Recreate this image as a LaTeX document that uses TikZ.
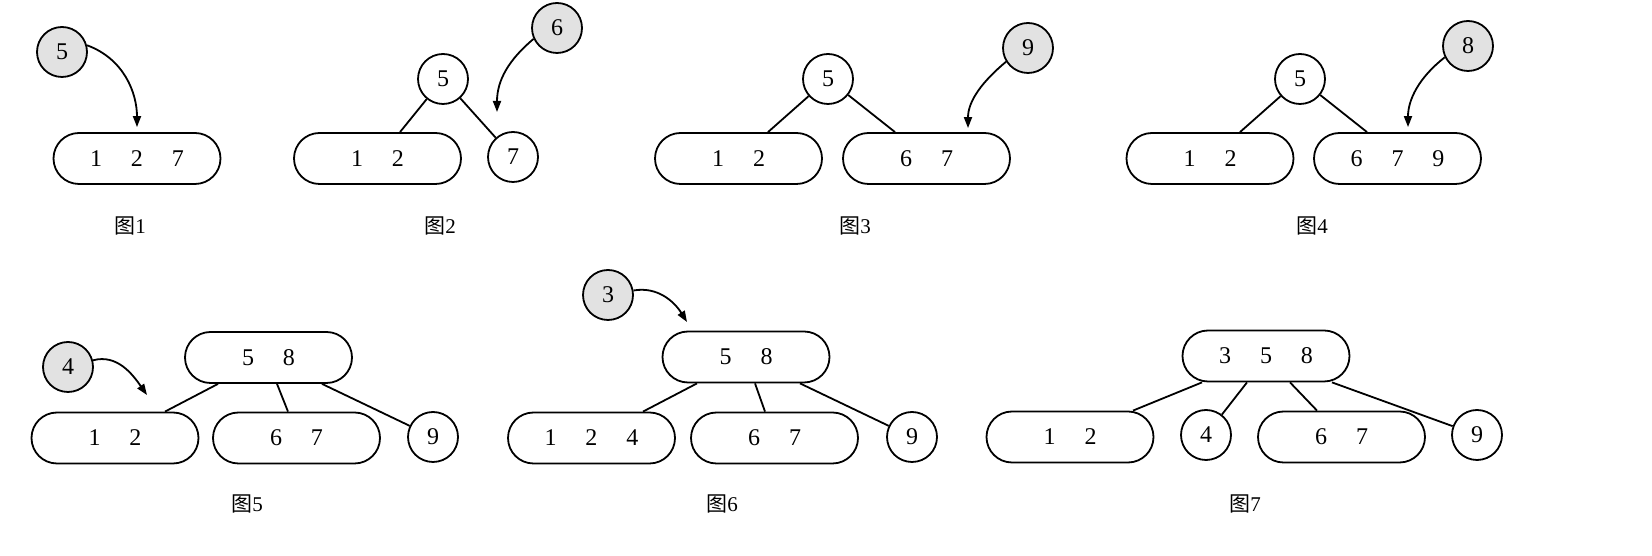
\documentclass[tikz,border=0pt]{standalone}
\usepackage{fontspec}
\setmainfont{Liberation Serif}
\newfontfamily\cjk{Noto Sans CJK SC}
\usetikzlibrary{arrows.meta}

\definecolor{insgray}{RGB}{226,226,226}
\newcommand{\dg}{\hspace{29pt}}

\tikzset{
  key/.style={draw=black, line width=1.8pt, rounded corners=25.5pt,
    minimum width=167pt, minimum height=51pt, inner sep=0pt,
    font=\fontsize{24}{28}\selectfont},
  ring/.style={draw=black, circle, line width=1.8pt, minimum size=50pt,
    inner sep=0pt, font=\fontsize{24}{28}\selectfont},
  newkey/.style={ring, fill=insgray},
  link/.style={line width=1.8pt},
  ins/.style={line width=1.8pt, -{Triangle[length=11pt,width=8pt]}},
  figcap/.style={font=\fontsize{21}{25}\selectfont, inner sep=0pt},
}

\begin{document}
\begin{tikzpicture}[x=1pt,y=1pt]
\fill[white] (0,0) rectangle (1652,556);
\useasboundingbox (0,0) rectangle (1652,556);

% ---------- Fig. 1 ----------
\node[newkey] (g1) at (62,504) {5};
\node[key] (b1) at (137,397.5) {1\dg 2\dg 7};
\draw[ins, shorten >=5pt] (g1.15) to[out=-20, in=90] (b1.north);
\node[figcap] (f1) at (130,330) {{\cjk 图}1};

% ---------- Fig. 2 ----------
\node[ring] (c2) at (443,477) {5};
\node[key] (b2) at (377.5,397.5) {1\dg 2};
\node[ring] (c2r) at (513,399) {7};
\draw[link] (c2) -- ([xshift=22.5pt]b2.north);
\draw[link] (c2) -- (c2r);
\node[newkey] (g2) at (557,528) {6};
\coordinate (p2) at (497,444);
\draw[ins] (g2.205) to[out=220, in=90] (p2);
\node[figcap] (f2) at (440,330) {{\cjk 图}2};

% ---------- Fig. 3 ----------
\node[ring] (c3) at (828,477) {5};
\node[key] (b3l) at (738.5,397.5) {1\dg 2};
\node[key] (b3r) at (926.5,397.5) {6\dg 7};
\draw[link] (c3) -- ([xshift=29.5pt]b3l.north);
\draw[link] (c3) -- ([xshift=-31.5pt]b3r.north);
\node[newkey] (g3) at (1028,508) {9};
\draw[ins, shorten >=4pt] (g3.212) to[out=220, in=90] ([xshift=41.5pt]b3r.north);
\node[figcap] (f3) at (855,330) {{\cjk 图}3};

% ---------- Fig. 4 ----------
\node[ring] (c4) at (1300,477) {5};
\node[key] (b4l) at (1210,397.5) {1\dg 2};
\node[key] (b4r) at (1397.5,397.5) {6\dg 7\dg 9};
\draw[link] (c4) -- ([xshift=30pt]b4l.north);
\draw[link] (c4) -- ([xshift=-30.5pt]b4r.north);
\node[newkey] (g4) at (1468,510) {8};
\draw[ins, shorten >=5pt] (g4.206) to[out=218, in=90] ([xshift=10.5pt]b4r.north);
\node[figcap] (f4) at (1312,330) {{\cjk 图}4};

% ---------- Fig. 5 ----------
\node[key] (r5) at (268.5,198.5) {5\dg 8};
\node[key] (b5a) at (115,118) {1\dg 2};
\node[key] (b5b) at (296.5,118) {6\dg 7};
\node[ring] (c5) at (433,119) {9};
\draw[link] ([xshift=-50.5pt]r5.south) -- ([xshift=50pt]b5a.north);
\draw[link] ([xshift=8.5pt]r5.south) -- ([xshift=-8.5pt]b5b.north);
\draw[link] ([xshift=53.5pt]r5.south) -- (c5);
\node[newkey] (g5) at (68,189) {4};
\coordinate (p5) at (147,161);
\draw[ins] (g5.15) to[out=15, in=125] (p5);
\node[figcap] (f5) at (247,52) {{\cjk 图}5};

% ---------- Fig. 6 ----------
\node[key] (r6) at (746,199) {5\dg 8};
\node[key] (b6a) at (591.5,118) {1\dg 2\dg 4};
\node[key] (b6b) at (774.5,118) {6\dg 7};
\node[ring] (c6) at (912,119) {9};
\draw[link] ([xshift=-49pt]r6.south) -- ([xshift=51.5pt]b6a.north);
\draw[link] ([xshift=9pt]r6.south) -- ([xshift=-9.5pt]b6b.north);
\draw[link] ([xshift=54pt]r6.south) -- (c6);
\node[newkey] (g6) at (608,261) {3};
\coordinate (p6) at (687,234);
\draw[ins] (g6.10) to[out=10, in=122] (p6);
\node[figcap] (f6) at (722,52) {{\cjk 图}6};

% ---------- Fig. 7 ----------
\node[key] (r7) at (1266,200) {3\dg 5\dg 8};
\node[key] (b7a) at (1070,119) {1\dg 2};
\node[ring] (c7a) at (1206,121) {4};
\node[key] (b7b) at (1341.5,119) {6\dg 7};
\node[ring] (c7b) at (1477,121) {9};
\draw[link] ([xshift=-64pt]r7.south) -- ([xshift=63pt]b7a.north);
\draw[link] ([xshift=-19pt]r7.south) -- (c7a);
\draw[link] ([xshift=24pt]r7.south) -- ([xshift=-24.5pt]b7b.north);
\draw[link] ([xshift=66pt]r7.south) -- (c7b);
\node[figcap] (f7) at (1245,52) {{\cjk 图}7};
\end{tikzpicture}
\end{document}
